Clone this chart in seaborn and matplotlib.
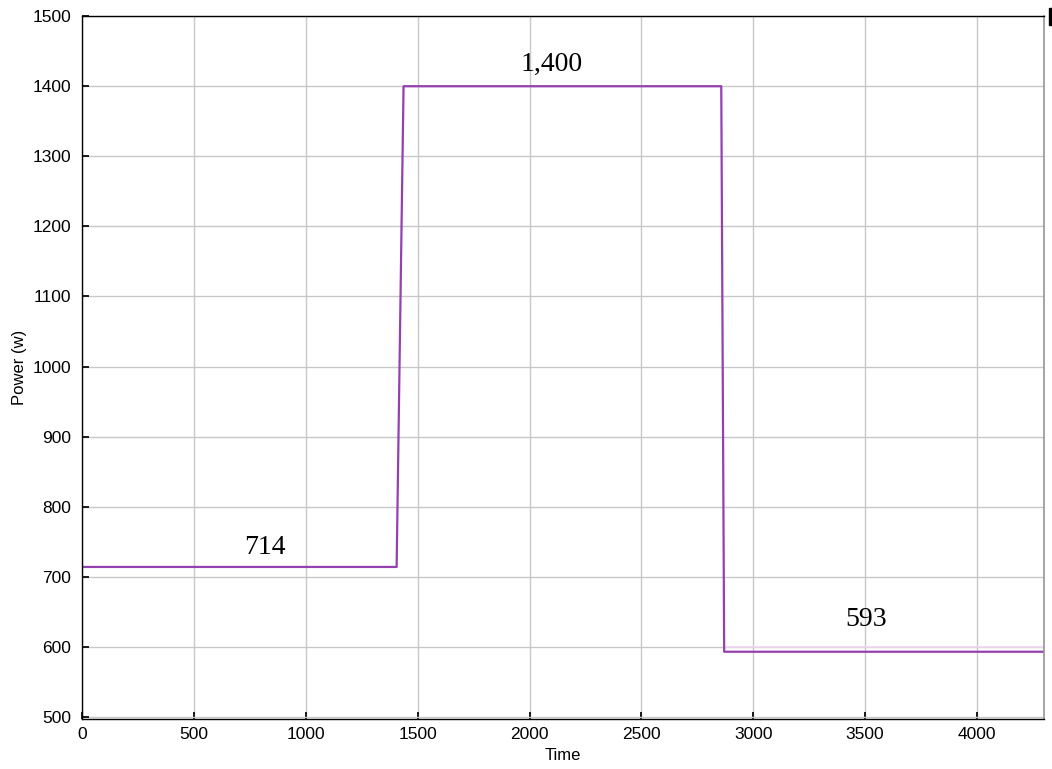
import numpy as np
import pandas as pd
import seaborn as sns
import matplotlib.pyplot as plt
from matplotlib.patches import Rectangle

# step profile of power (w) over time
time = [0, 1406, 1437, 2857, 2870, 4300]
power = [714, 714, 1400, 1400, 593, 593]

# faint trace just above the last step
ref_time = [2875, 4300]
ref_power = [600, 600]

labels = ["714", "1,400", "593"]
label_time = [816, 2100, 3504]
label_power = [742, 1431, 639]

sns.set_theme(style="whitegrid")
plt.rcParams['font.family'] = ['Liberation Sans', 'DejaVu Sans']

df = pd.DataFrame({"Time": time, "Power": power})
df_ref = pd.DataFrame({"Time": ref_time, "Power": ref_power})

fig = plt.figure(figsize=(10.52, 7.69), dpi=100)
ax = fig.add_axes([0.078, 0.065, 0.9145, 0.914])

sns.lineplot(data=df_ref, x="Time", y="Power", sort=False, estimator=None,
             color="#f2d6f2", linewidth=1.2, ax=ax)
sns.lineplot(data=df, x="Time", y="Power", sort=False, estimator=None,
             color="#9440b0", linewidth=1.6, ax=ax)

for txt, tx, py in zip(labels, label_time, label_power):
    ax.text(tx, py, txt, ha="center", va="center", fontsize=20,
            family=["Liberation Serif", "DejaVu Serif"], color="black")

ax.set_xlim(0, 4300)
ax.set_ylim(497, 1500)
ax.set_xticks(np.arange(0, 4001, 500))
ax.set_yticks(np.arange(500, 1501, 100))
ax.grid(True, color="#c8c8c8", linewidth=1.0)
ax.tick_params(direction="in", length=5, labelsize=12.5, colors="black",
               left=True, bottom=True)
ax.tick_params(axis="y", pad=8)
ax.tick_params(axis="x", pad=6)
ax.set_xlabel("Time", fontsize=12, labelpad=4, color="black")
ax.set_ylabel("Power (w)", fontsize=12, labelpad=4, color="black")

for side in ["left", "bottom", "top"]:
    ax.spines[side].set_color("black")
    ax.spines[side].set_linewidth(1.0)
ax.spines["right"].set_color("#999999")

# clipped dark mark at the top-right corner of the original
fig.patches.append(Rectangle((1049 / 1052, 1 - 25 / 769), 4 / 1052, 17 / 769,
                             transform=fig.transFigure, color="black"))

fig.savefig("out.png", dpi=100, facecolor="white")
